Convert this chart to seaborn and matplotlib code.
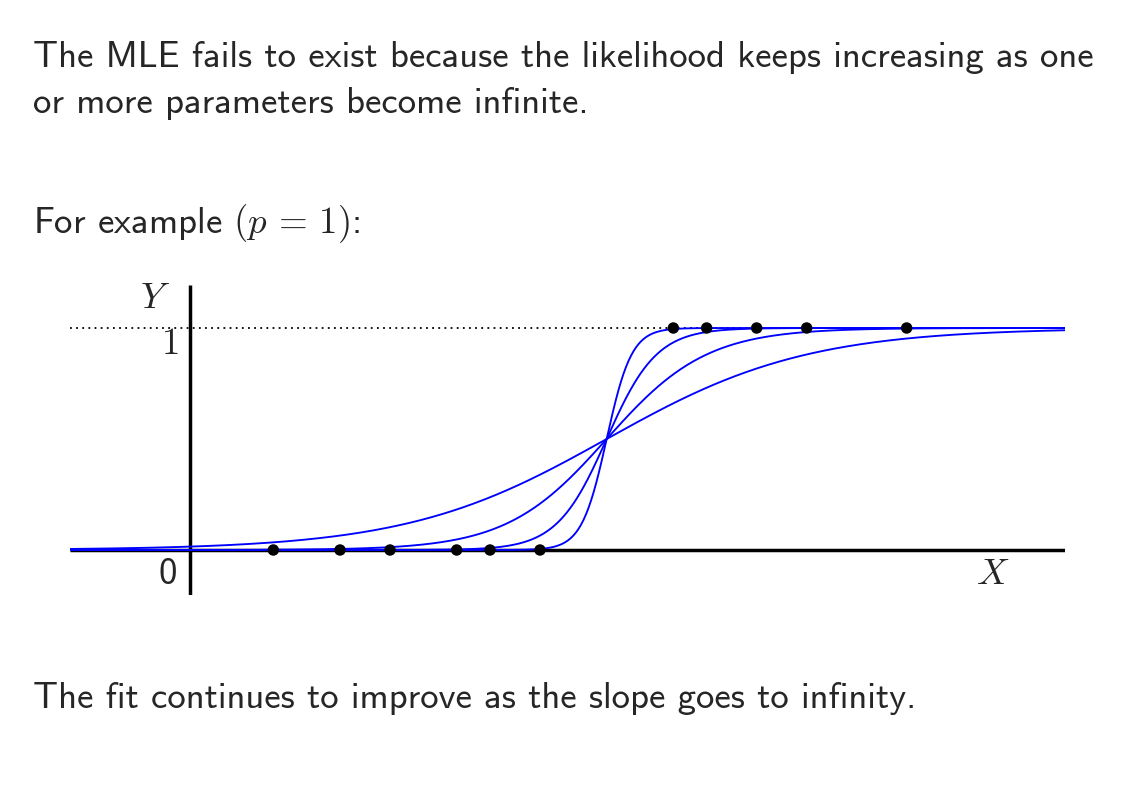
import numpy as np
import pandas as pd
import matplotlib
matplotlib.use("Agg")
import matplotlib.pyplot as plt
import seaborn as sns

# ---- data (x measured in grid units of the sketch) ----
x_zero = [5, 9, 12, 16, 18, 21]          # observations with Y = 0
x_one = [29, 31, 34, 37, 43]             # observations with Y = 1
center = 25                              # common crossing point (Y = 0.5)
slopes = [1 / 6, 2 / 6, 4 / 6, 8 / 6]    # increasingly steep logistic fits
x_range = [-7.2, 52.5]

line1 = "The MLE fails to exist because the likelihood keeps increasing as one"
line2 = "or more parameters become infinite."
line3 = r"For example $(p\,=\,1)$:"
line4 = "The fit continues to improve as the slope goes to infinity."

sns.set_style("white")
plt.rcParams["font.family"] = ["cmss10", "DejaVu Sans"]
plt.rcParams["mathtext.fontset"] = "cm"
plt.rcParams["axes.unicode_minus"] = False

W, H = 1135, 789
fig = plt.figure(figsize=(W / 100, H / 100), dpi=100)
fig.patch.set_facecolor("white")

def px(x, y):
    return x / W, 1 - y / H

# axes region in pixels
L, R, T, B = 70, 1065, 285, 595
ax = fig.add_axes([L / W, 1 - B / H, (R - L) / W, (B - T) / H])
ax.set_axis_off()
xmin, xmax = x_range
xppu = (R - L) / (xmax - xmin)
y0p, y1p = 550, 328
ppu = y0p - y1p
ax.set_xlim(xmin, xmax)
ax.set_ylim(-(B - y0p) / ppu, (y0p - T) / ppu)

# dotted line at Y = 1
ax.plot([xmin, xmax], [1, 1], color="black", lw=1.3, linestyle=(0, (1, 2.4)), zorder=1)
# axes
ax.plot([xmin, xmax], [0, 0], color="black", lw=2.5, solid_capstyle="butt", zorder=2)
ax.plot([0, 0], list(ax.get_ylim()), color="black", lw=2.5, solid_capstyle="butt", zorder=2)

# logistic curves
xs = np.linspace(xmin, xmax, 1200)
rows = []
for s in slopes:
    ys = 1 / (1 + np.exp(-s * (xs - center)))
    rows.append(pd.DataFrame({"x": xs, "y": ys, "slope": s}))
curves = pd.concat(rows, ignore_index=True)
sns.lineplot(data=curves, x="x", y="y", units="slope", estimator=None,
             color="#0000ff", lw=1.35, ax=ax, zorder=3, legend=False)

pts = pd.DataFrame({"x": x_zero + x_one,
                    "y": [0] * len(x_zero) + [1] * len(x_one)})
sns.scatterplot(data=pts, x="x", y="y", color="black", s=68, edgecolor="none",
                ax=ax, zorder=4, legend=False)
ax.set_xlabel("")
ax.set_ylabel("")

# axis labels
fs = 26.5
ax.text(-35 / xppu, (y0p - 298) / ppu, r"$Y$", fontsize=fs, ha="center", va="center")
ax.text(-20 / xppu, (y0p - 345) / ppu, r"$1$", fontsize=fs, ha="center", va="center")
ax.text(-22 / xppu, (y0p - 575) / ppu, "0", fontsize=fs, ha="center", va="center")
ax.text((993 - 190) / xppu, (y0p - 575) / ppu, r"$X$", fontsize=fs, ha="center", va="center")

# slide text
fig.text(*px(33, 67), line1, fontsize=fs, ha="left", va="baseline")
fig.text(*px(33, 113), line2, fontsize=fs, ha="left", va="baseline")
fig.text(*px(33, 233), line3, fontsize=fs, ha="left", va="baseline")
fig.text(*px(33, 708), line4, fontsize=fs, ha="left", va="baseline")

fig.savefig("out.png", dpi=100, facecolor="white")
